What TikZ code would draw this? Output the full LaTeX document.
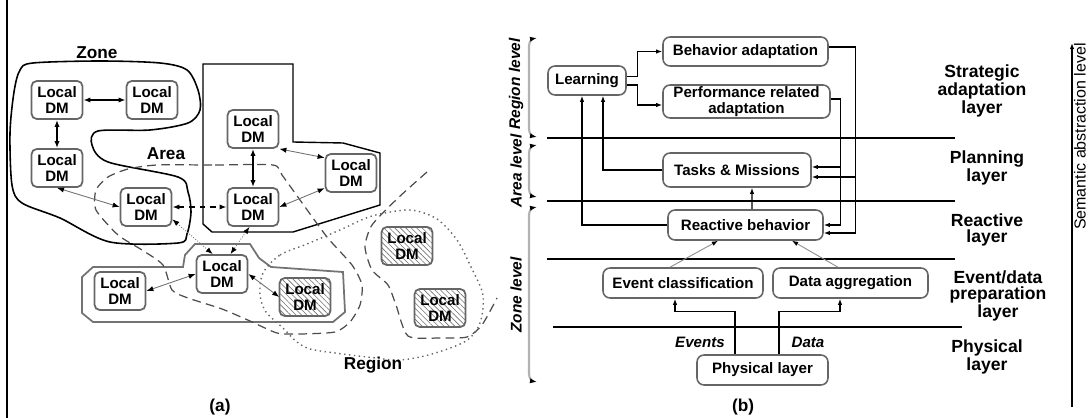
\documentclass[tikz,border=0pt]{standalone}
\usepackage{fontspec}
\setmainfont{Liberation Sans}
\usetikzlibrary{calc}
\usetikzlibrary{arrows.meta}
\usetikzlibrary{patterns.meta}

\begin{document}
\begin{tikzpicture}[x=0.02cm, y=-0.02cm,
                          dmnode/.style={rectangle, rounded corners=3pt, draw=black!60, line width=1pt, fill=white, align=center, minimum width=1.02cm, minimum height=0.76cm, inner sep=0pt, font=\bfseries\fontsize{8.6}{9}\selectfont},
                          dmnode_hatched/.style={dmnode, preaction={fill=white}, pattern={Lines[angle=-45, distance=2.2pt, line width=0.35pt]}, pattern color=black!55},
                          layernode/.style={rectangle, rounded corners=4pt, draw=black!60, line width=0.9pt, fill=white, align=center, inner sep=0pt, minimum height=0.6cm, font=\bfseries\fontsize{8.6}{9}\selectfont},
                          layertext/.style={align=center, inner sep=0pt, font=\bfseries\fontsize{10}{9}\selectfont},
                          leveltext/.style={rotate=90, inner sep=0pt, font=\bfseries\itshape\fontsize{8.8}{9}\selectfont},
                          areatext/.style={inner sep=0pt, font=\bfseries\fontsize{9.8}{10}\selectfont},
                          link/.style={{Latex[length=4pt, width=3pt]}-{Latex[length=4pt, width=3pt]}, line width=0.8pt},
                          thinlink/.style={{Latex[length=4pt, width=3pt, color=black]}-{Latex[length=4pt, width=3pt, color=black]}, draw=black!55, line width=0.5pt},
                          dotlink/.style={thinlink, densely dotted},
                          flow/.style={-{Latex[length=3.5pt, width=2.6pt]}, line width=0.7pt},
                          thinflow/.style={-{Latex[length=3.5pt, width=2.6pt, color=black]}, draw=black!45, line width=0.5pt},
                          levelbrace/.style={{Latex[length=4pt, width=3pt, color=black]}-{Latex[length=4pt, width=3pt, color=black]}, draw=black!30, line width=1.2pt},
                          layerline/.style={line width=0.8pt},
                      ]
                      \useasboundingbox (0,0) rectangle (1091,418);
                      \draw[line width=0.8pt] (7,0) -- (7,418);

                      % Zones, areas and regions
                      \draw[line width=0.9pt] plot[smooth cycle, tension=0.5] coordinates {(33,63) (100,61) (160,63) (187,70) (198,90) (200,110) (188,123) (150,130) (98,131) (92,145) (108,162) (178,177) (188,192) (191,212) (187,234) (178,243) (110,242) (60,218) (22,203) (12,185) (10,133) (14,92) (20,70)};
                      \draw[line width=0.8pt] (203,64) -- (293,64) -- (293,142) -- (343,143) -- (380,153) -- (380,205) -- (293,232) -- (212,232) -- (203,224) -- cycle;
                      \draw[draw=black!55, line width=1pt] (82,277) -- (93,267) -- (183,267) -- (185,255) -- (195,244) -- (250,244) -- (259,258) -- (271,267) -- (343,272) -- (345,312) -- (333,322) -- (93,322) -- (82,313) -- cycle;
                      \draw[dash pattern=on 5pt off 3pt, draw=black!70, line width=0.7pt] plot[smooth cycle, tension=0.4] coordinates {(157,165) (215,165) (273,165) (282,175) (300,200) (327,237) (352,265) (362,285) (360,305) (350,322) (335,332) (300,334) (277,333) (250,321) (222,309) (188,298) (172,290) (163,265) (142,250) (118,235) (96,210) (96,190) (108,177) (128,169)};
                      \draw[dash pattern=on 5pt off 3pt, draw=black!70, line width=0.7pt] plot[smooth, tension=0.4] coordinates {(427,172) (398,198) (372,225) (365,247) (372,270) (388,285) (396,305) (408,336) (440,338) (467,337) (482,325) (497,298)};
                      \draw[dotted, draw=black!60, line width=0.8pt] plot[smooth cycle, tension=0.5] coordinates {(263,273) (280,255) (307,244) (340,230) (372,216) (410,210) (437,219) (457,240) (471,267) (483,295) (480,323) (466,341) (432,354) (400,360) (367,357) (335,353) (310,349) (297,342) (283,328) (266,312) (260,295)};

                      % Nodes
                      \node[dmnode]           (dm_zone_1)    at (57,100)   {Local\\DM};
                      \node[dmnode]           (dm_zone_2)    at (152,100)  {Local\\DM};
                      \node[dmnode]           (dm_zone_3)    at (57,168)   {Local\\DM};
                      \node[dmnode]           (dm_zone_4)    at (146,207)  {Local\\DM};
                      \node[dmnode]           (dm_rect_1)    at (253,129)  {Local\\DM};
                      \node[dmnode]           (dm_rect_2)    at (253,207)  {Local\\DM};
                      \node[dmnode]           (dm_rect_3)    at (351,173)  {Local\\DM};
                      \node[dmnode]           (dm_group_1)   at (222,274)  {Local\\DM};
                      \node[dmnode]           (dm_group_2)   at (120,291)  {Local\\DM};
                      \node[dmnode_hatched]   (dm_group_3)   at (305,297)  {Local\\DM};
                      \node[dmnode_hatched]   (dm_region_1)  at (407,246)  {Local\\DM};
                      \node[dmnode_hatched]   (dm_region_2)  at (440,308)  {Local\\DM};

                      \node[areatext]         (lbl_zone)     at (97,53)    {Zone};
                      \node[areatext]         (lbl_area)     at (166,154)  {Area};
                      \node[areatext]         (lbl_region)   at (373,365)  {Region};
                      \node[areatext]         (cap_a)        at (220,407)  {(a)};

                      %Lines
                      \draw[link] (dm_zone_1) -- (dm_zone_2);
                      \draw[link] (dm_zone_1) -- (dm_zone_3);
                      \draw[thinlink] (dm_zone_3.south) -- (dm_zone_4.west);
                      \draw[link, dashed] (dm_zone_4) -- (dm_rect_2);
                      \draw[link] (dm_rect_1) -- (dm_rect_2);
                      \draw[thinlink] (dm_rect_1.south east) -- (dm_rect_3.150);
                      \draw[thinlink] (dm_rect_2.east) -- (dm_rect_3.-150);
                      \draw[dotlink] (dm_zone_4.-25) -- (dm_group_1.115);
                      \draw[dotlink] (dm_rect_2.-100) -- (dm_group_1.67);
                      \draw[thinlink] (dm_group_2.east) -- (dm_group_1.west);
                      \draw[thinlink] (dm_group_1.east) -- (dm_group_3.west);

                      % Layers
                      \draw[layerline] (547,138) -- (955,138);
                      \draw[layerline] (547,201) -- (955,201);
                      \draw[layerline] (547,259) -- (955,259);
                      \draw[layerline] (553,327) -- (962,327);

                      \node[layernode, minimum width=1.56cm, minimum height=0.58cm]  (learn)    at (587,80.5)   {Learning};
                      \node[layernode, minimum width=3.3cm, minimum height=0.58cm]   (behav)    at (745.5,51.5) {Behavior adaptation};
                      \node[layernode, minimum width=3.34cm, minimum height=0.66cm]  (perf)     at (746.5,101.5) {Performance related\\adaptation};
                      \node[layernode, minimum width=2.96cm, minimum height=0.68cm]  (tasks)    at (737,170)    {Tasks \& Missions};
                      \node[layernode, minimum width=3.1cm]                          (react)    at (745.5,225)  {Reactive behavior};
                      \node[layernode, minimum width=3.2cm]                          (evclass)  at (683,283)    {Event classification};
                      \node[layernode, minimum width=3.1cm]                          (dataagg)  at (850.5,283)  {Data aggregation};
                      \node[layernode, minimum width=2.62cm]                         (phys)     at (762.5,370)  {Physical layer};

                      \node[font=\bfseries\itshape\fontsize{8.6}{9}\selectfont] (lbl_events) at (700,342) {Events};
                      \node[font=\bfseries\itshape\fontsize{8.6}{9}\selectfont] (lbl_data)   at (808,342) {Data};

                      \node[layertext] (lbl_strategic)  at (982,91)  {Strategic\\adaptation\\layer};
                      \node[layertext] (lbl_planning)   at (987,168) {Planning\\layer};
                      \node[layertext] (lbl_reactive)   at (987,230) {Reactive\\layer};
                      \node[layertext] (lbl_eventdata)  at (998,296) {Event/data\\preparation\\layer};
                      \node[layertext] (lbl_physical)   at (987,357) {Physical\\layer};

                      \node[leveltext] (lbl_region_level) at (516,84)  {Region level};
                      \node[leveltext] (lbl_area_level)   at (516,171) {Area level};
                      \node[leveltext] (lbl_zone_level)   at (516,295) {Zone level};
                      \node[areatext]  (cap_b)            at (743,407) {(b)};

                      \coordinate (sem_bottom) at (1072,407);
                      \coordinate (sem_top)    at (1072,43);
                      \node[rotate=90, anchor=east, inner sep=0pt, font=\fontsize{9.1}{10}\selectfont] (lbl_semantic) at (1080,43) {Semantic abstraction level};

                      %Lines
                      \draw[flow] ($(learn.east)+(0,-4)$) -- ++(11,0) |- (behav.west);
                      \draw[flow] ($(learn.east)+(0,4.5)$) -- ++(11,0) |- ($(perf.west)+(0,3.5)$);
                      \draw[flow] (tasks.west) -| ($(learn.south)+(16,0)$);
                      \draw[flow] (react.west) -| ($(learn.south)+(-5,0)$);
                      \draw[flow] ($(react.north)+(6.5,0)$) -- ($(tasks.south)+(15,0)$);
                      \draw[flow] ($(behav.east)+(0,-4.5)$) -- ++(27,0) |- ($(react.east)+(0,8)$);
                      \draw[flow] ($(behav.east)+(27,-4.5)$) |- ($(tasks.east)+(0,7)$);
                      \draw[flow] ($(perf.east)+(0,-2.5)$) -- ++(10,0) |- (react.east);
                      \draw[flow] ($(perf.east)+(10,-2.5)$) |- ($(tasks.east)+(0,-3)$);
                      \draw[thinflow] ($(evclass.north)+(-13,0)$) -- ($(react.south)+(-27.5,0)$);
                      \draw[thinflow] ($(dataagg.north)+(-12.5,0)$) -- ($(react.south)+(46.5,0)$);
                      \draw[flow] ($(phys.north)+(-27.5,0)$) -- ++(0,-43) -| ($(evclass.south)+(-8,0)$);
                      \draw[flow] ($(phys.north)+(16.5,0)$) -- ++(0,-43) -| ($(dataagg.south)+(-10.5,0)$);
                      \draw[flow] (sem_bottom) -- (sem_top);

                      \draw[levelbrace] (537,38) to[out=190, in=90] (529,46) -- (529,129) to[out=-90, in=170] (537,137);
                      \draw[levelbrace] (537,145) to[out=190, in=90] (529,153) -- (529,189) to[out=-90, in=170] (537,197);
                      \draw[levelbrace] (537,207) to[out=190, in=90] (529,215) -- (529,374) to[out=-90, in=170] (537,382);
                  \end{tikzpicture}
\end{document}
